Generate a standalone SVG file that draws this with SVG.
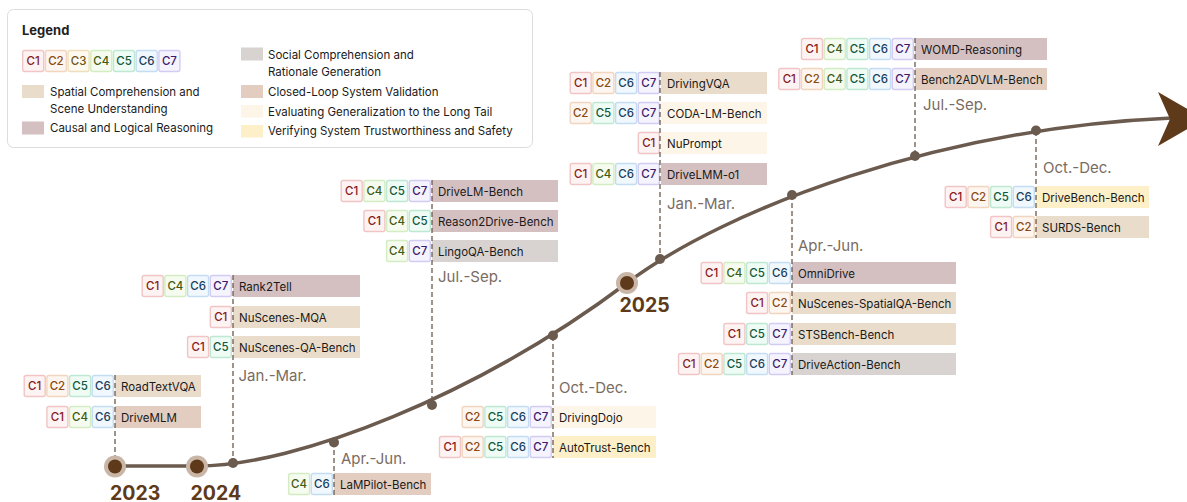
<svg xmlns="http://www.w3.org/2000/svg" width="1187" height="502" viewBox="0 0 1187 502">
<defs>
<style>
text{font-family:Inter,"Noto Sans","Liberation Sans",sans-serif}
.lbl{font-size:11.5px;fill:#1a1a1a}
.leg{font-size:11.5px;fill:#1a1a1a}
.tt{font-size:11.5px;font-weight:500;text-anchor:middle}
.tg{stroke-width:1.4}
.c1{fill:#fdf3f3;stroke:#f1c5c5}.k1{fill:#861b1b}
.c2{fill:#fdf6f0;stroke:#f2d5bf}.k2{fill:#8a4a12}
.c3{fill:#fdf9ee;stroke:#efdfbd}.k3{fill:#6e5412}
.c4{fill:#f6fbf0;stroke:#d4ecc1}.k4{fill:#3f5a12}
.c5{fill:#effbf5;stroke:#bfe8d4}.k5{fill:#12573e}
.c6{fill:#f0f7fd;stroke:#c4ddf2}.k6{fill:#1a3d5c}
.c7{fill:#f5f3fd;stroke:#d3ccf2}.k7{fill:#3d1a6b}
.sp{fill:#e9dccb}.ca{fill:#d5c0c1}.so{fill:#d8d3d0}.cl{fill:#e2cdc0}.ev{fill:#fdf5e7}.ve{fill:#fdefc8}
.per{font-size:15px;fill:#7a6b62}
.yr{font-size:19.5px;font-weight:700;fill:#5e3a1a}
.dash{stroke:#6b5a4e;stroke-width:1.3;stroke-dasharray:5 3;fill:none}
.dot{fill:#6b5a4e}
</style>
</defs>

<g id="legend">
<rect x="7.5" y="9.5" width="525" height="138" rx="6" fill="#fff" stroke="#dcdcdc"/>
<text x="22" y="35" style="font-size:13px;font-weight:700;fill:#1f1f1f">Legend</text>
<rect class="tg c1" x="22.7" y="50.5" width="21" height="21" rx="2"/><text class="tt k1" x="33.2" y="65.3">C1</text>
<rect class="tg c2" x="45.4" y="50.5" width="21" height="21" rx="2"/><text class="tt k2" x="55.9" y="65.3">C2</text>
<rect class="tg c3" x="68.1" y="50.5" width="21" height="21" rx="2"/><text class="tt k3" x="78.6" y="65.3">C3</text>
<rect class="tg c4" x="90.8" y="50.5" width="21" height="21" rx="2"/><text class="tt k4" x="101.3" y="65.3">C4</text>
<rect class="tg c5" x="113.5" y="50.5" width="21" height="21" rx="2"/><text class="tt k5" x="124" y="65.3">C5</text>
<rect class="tg c6" x="136.2" y="50.5" width="21" height="21" rx="2"/><text class="tt k6" x="146.7" y="65.3">C6</text>
<rect class="tg c7" x="158.9" y="50.5" width="21" height="21" rx="2"/><text class="tt k7" x="169.4" y="65.3">C7</text>
<rect class="sp" x="22" y="85" width="22" height="13"/>
<text class="leg" x="50" y="95.5">Spatial Comprehension and</text>
<text class="leg" x="50" y="113">Scene Understanding</text>
<rect class="ca" x="22" y="121.5" width="22" height="13"/>
<text class="leg" x="50" y="132">Causal and Logical Reasoning</text>
<rect class="so" x="241" y="47.5" width="22" height="13"/>
<text class="leg" x="268" y="58.5">Social Comprehension and</text>
<text class="leg" x="268" y="76">Rationale Generation</text>
<rect class="cl" x="241" y="85" width="22" height="13"/>
<text class="leg" x="268" y="95.5">Closed-Loop System Validation</text>
<rect class="ev" x="241" y="105" width="22" height="12.5"/>
<text class="leg" x="268" y="115.5">Evaluating Generalization to the Long Tail</text>
<rect class="ve" x="241" y="125" width="22" height="12.5"/>
<text class="leg" x="268" y="135">Verifying System Trustworthiness and Safety</text>
</g>

<!-- 2023 -->
<g id="roadtextvqa">
<rect class="sp" x="115" y="375" width="86" height="22"/><text class="lbl" x="121" y="390.5">RoadTextVQA</text>
<rect class="tg c1" x="24.2" y="375.5" width="21" height="21" rx="2"/><text class="tt k1" x="34.7" y="390.3">C1</text>
<rect class="tg c2" x="46.9" y="375.5" width="21" height="21" rx="2"/><text class="tt k2" x="57.4" y="390.3">C2</text>
<rect class="tg c5" x="69.6" y="375.5" width="21" height="21" rx="2"/><text class="tt k5" x="80.1" y="390.3">C5</text>
<rect class="tg c6" x="92.3" y="375.5" width="21" height="21" rx="2"/><text class="tt k6" x="102.8" y="390.3">C6</text>
</g>
<g id="drivemlm">
<rect class="cl" x="115" y="406" width="86" height="22"/><text class="lbl" x="121" y="421.5">DriveMLM</text>
<rect class="tg c1" x="46.9" y="406.5" width="21" height="21" rx="2"/><text class="tt k1" x="57.4" y="421.3">C1</text>
<rect class="tg c4" x="69.6" y="406.5" width="21" height="21" rx="2"/><text class="tt k4" x="80.1" y="421.3">C4</text>
<rect class="tg c6" x="92.3" y="406.5" width="21" height="21" rx="2"/><text class="tt k6" x="102.8" y="421.3">C6</text>
</g>

<!-- 2024 Jan-Mar -->
<g id="rank2tell">
<rect class="ca" x="233" y="275" width="127" height="22"/><text class="lbl" x="239" y="290.5">Rank2Tell</text>
<rect class="tg c1" x="142.2" y="275.5" width="21" height="21" rx="2"/><text class="tt k1" x="152.7" y="290.3">C1</text>
<rect class="tg c4" x="164.9" y="275.5" width="21" height="21" rx="2"/><text class="tt k4" x="175.4" y="290.3">C4</text>
<rect class="tg c6" x="187.6" y="275.5" width="21" height="21" rx="2"/><text class="tt k6" x="198.1" y="290.3">C6</text>
<rect class="tg c7" x="210.3" y="275.5" width="21" height="21" rx="2"/><text class="tt k7" x="220.8" y="290.3">C7</text>
</g>
<g id="nuscenes-mqa">
<rect class="sp" x="233" y="306" width="127" height="22"/><text class="lbl" x="239" y="321.5">NuScenes-MQA</text>
<rect class="tg c1" x="210.3" y="306.5" width="21" height="21" rx="2"/><text class="tt k1" x="220.8" y="321.3">C1</text>
</g>
<g id="nuscenes-qa-bench">
<rect class="sp" x="233" y="336" width="127" height="22"/><text class="lbl" x="239" y="351.5">NuScenes-QA-Bench</text>
<rect class="tg c1" x="187.6" y="336.5" width="21" height="21" rx="2"/><text class="tt k1" x="198.1" y="351.3">C1</text>
<rect class="tg c5" x="210.3" y="336.5" width="21" height="21" rx="2"/><text class="tt k5" x="220.8" y="351.3">C5</text>
</g>

<!-- 2024 Apr-Jun -->
<g id="lampilot-bench">
<rect class="cl" x="334" y="473" width="97" height="22"/><text class="lbl" x="340" y="488.5">LaMPilot-Bench</text>
<rect class="tg c4" x="288.6" y="473.5" width="21" height="21" rx="2"/><text class="tt k4" x="299.1" y="488.3">C4</text>
<rect class="tg c6" x="311.3" y="473.5" width="21" height="21" rx="2"/><text class="tt k6" x="321.8" y="488.3">C6</text>
</g>

<!-- 2024 Jul-Sep -->
<g id="drivelm-bench">
<rect class="ca" x="432" y="180" width="126" height="22"/><text class="lbl" x="438" y="195.5">DriveLM-Bench</text>
<rect class="tg c1" x="341.2" y="180.5" width="21" height="21" rx="2"/><text class="tt k1" x="351.7" y="195.3">C1</text>
<rect class="tg c4" x="363.9" y="180.5" width="21" height="21" rx="2"/><text class="tt k4" x="374.4" y="195.3">C4</text>
<rect class="tg c5" x="386.6" y="180.5" width="21" height="21" rx="2"/><text class="tt k5" x="397.1" y="195.3">C5</text>
<rect class="tg c7" x="409.3" y="180.5" width="21" height="21" rx="2"/><text class="tt k7" x="419.8" y="195.3">C7</text>
</g>
<g id="reason2drive-bench">
<rect class="ca" x="432" y="210" width="126" height="22"/><text class="lbl" x="438" y="225.5">Reason2Drive-Bench</text>
<rect class="tg c1" x="363.9" y="210.5" width="21" height="21" rx="2"/><text class="tt k1" x="374.4" y="225.3">C1</text>
<rect class="tg c4" x="386.6" y="210.5" width="21" height="21" rx="2"/><text class="tt k4" x="397.1" y="225.3">C4</text>
<rect class="tg c5" x="409.3" y="210.5" width="21" height="21" rx="2"/><text class="tt k5" x="419.8" y="225.3">C5</text>
</g>
<g id="lingoqa-bench">
<rect class="so" x="432" y="240" width="126" height="22"/><text class="lbl" x="438" y="255.5">LingoQA-Bench</text>
<rect class="tg c4" x="386.6" y="240.5" width="21" height="21" rx="2"/><text class="tt k4" x="397.1" y="255.3">C4</text>
<rect class="tg c7" x="409.3" y="240.5" width="21" height="21" rx="2"/><text class="tt k7" x="419.8" y="255.3">C7</text>
</g>

<!-- 2024 Oct-Dec -->
<g id="drivingdojo">
<rect class="ev" x="553" y="406" width="103" height="22"/><text class="lbl" x="559" y="421.5">DrivingDojo</text>
<rect class="tg c2" x="462.2" y="406.5" width="21" height="21" rx="2"/><text class="tt k2" x="472.7" y="421.3">C2</text>
<rect class="tg c5" x="484.9" y="406.5" width="21" height="21" rx="2"/><text class="tt k5" x="495.4" y="421.3">C5</text>
<rect class="tg c6" x="507.6" y="406.5" width="21" height="21" rx="2"/><text class="tt k6" x="518.1" y="421.3">C6</text>
<rect class="tg c7" x="530.3" y="406.5" width="21" height="21" rx="2"/><text class="tt k7" x="540.8" y="421.3">C7</text>
</g>
<g id="autotrust-bench">
<rect class="ve" x="553" y="436" width="103" height="22"/><text class="lbl" x="559" y="451.5">AutoTrust-Bench</text>
<rect class="tg c1" x="439.5" y="436.5" width="21" height="21" rx="2"/><text class="tt k1" x="450" y="451.3">C1</text>
<rect class="tg c2" x="462.2" y="436.5" width="21" height="21" rx="2"/><text class="tt k2" x="472.7" y="451.3">C2</text>
<rect class="tg c5" x="484.9" y="436.5" width="21" height="21" rx="2"/><text class="tt k5" x="495.4" y="451.3">C5</text>
<rect class="tg c6" x="507.6" y="436.5" width="21" height="21" rx="2"/><text class="tt k6" x="518.1" y="451.3">C6</text>
<rect class="tg c7" x="530.3" y="436.5" width="21" height="21" rx="2"/><text class="tt k7" x="540.8" y="451.3">C7</text>
</g>

<!-- 2025 Jan-Mar -->
<g id="drivingvqa">
<rect class="sp" x="661" y="72" width="106" height="22"/><text class="lbl" x="667" y="87.5">DrivingVQA</text>
<rect class="tg c1" x="570.2" y="72.5" width="21" height="21" rx="2"/><text class="tt k1" x="580.7" y="87.3">C1</text>
<rect class="tg c2" x="592.9" y="72.5" width="21" height="21" rx="2"/><text class="tt k2" x="603.4" y="87.3">C2</text>
<rect class="tg c6" x="615.6" y="72.5" width="21" height="21" rx="2"/><text class="tt k6" x="626.1" y="87.3">C6</text>
<rect class="tg c7" x="638.3" y="72.5" width="21" height="21" rx="2"/><text class="tt k7" x="648.8" y="87.3">C7</text>
</g>
<g id="coda-lm-bench">
<rect class="ev" x="661" y="102" width="106" height="22"/><text class="lbl" x="667" y="117.5">CODA-LM-Bench</text>
<rect class="tg c2" x="570.2" y="102.5" width="21" height="21" rx="2"/><text class="tt k2" x="580.7" y="117.3">C2</text>
<rect class="tg c5" x="592.9" y="102.5" width="21" height="21" rx="2"/><text class="tt k5" x="603.4" y="117.3">C5</text>
<rect class="tg c6" x="615.6" y="102.5" width="21" height="21" rx="2"/><text class="tt k6" x="626.1" y="117.3">C6</text>
<rect class="tg c7" x="638.3" y="102.5" width="21" height="21" rx="2"/><text class="tt k7" x="648.8" y="117.3">C7</text>
</g>
<g id="nuprompt">
<rect class="ev" x="661" y="132" width="106" height="22"/><text class="lbl" x="667" y="147.5">NuPrompt</text>
<rect class="tg c1" x="638.3" y="132.5" width="21" height="21" rx="2"/><text class="tt k1" x="648.8" y="147.3">C1</text>
</g>
<g id="drivelmm-o1">
<rect class="ca" x="661" y="163" width="106" height="22"/><text class="lbl" x="667" y="178.5">DriveLMM-o1</text>
<rect class="tg c1" x="570.2" y="163.5" width="21" height="21" rx="2"/><text class="tt k1" x="580.7" y="178.3">C1</text>
<rect class="tg c4" x="592.9" y="163.5" width="21" height="21" rx="2"/><text class="tt k4" x="603.4" y="178.3">C4</text>
<rect class="tg c6" x="615.6" y="163.5" width="21" height="21" rx="2"/><text class="tt k6" x="626.1" y="178.3">C6</text>
<rect class="tg c7" x="638.3" y="163.5" width="21" height="21" rx="2"/><text class="tt k7" x="648.8" y="178.3">C7</text>
</g>

<!-- 2025 Apr-Jun -->
<g id="omnidrive">
<rect class="ca" x="792" y="262" width="164" height="22"/><text class="lbl" x="798" y="277.5">OmniDrive</text>
<rect class="tg c1" x="701.2" y="262.5" width="21" height="21" rx="2"/><text class="tt k1" x="711.7" y="277.3">C1</text>
<rect class="tg c4" x="723.9" y="262.5" width="21" height="21" rx="2"/><text class="tt k4" x="734.4" y="277.3">C4</text>
<rect class="tg c5" x="746.6" y="262.5" width="21" height="21" rx="2"/><text class="tt k5" x="757.1" y="277.3">C5</text>
<rect class="tg c6" x="769.3" y="262.5" width="21" height="21" rx="2"/><text class="tt k6" x="779.8" y="277.3">C6</text>
</g>
<g id="nuscenes-spatialqa-bench">
<rect class="sp" x="792" y="292" width="164" height="22"/><text class="lbl" x="798" y="307.5">NuScenes-SpatialQA-Bench</text>
<rect class="tg c1" x="746.6" y="292.5" width="21" height="21" rx="2"/><text class="tt k1" x="757.1" y="307.3">C1</text>
<rect class="tg c2" x="769.3" y="292.5" width="21" height="21" rx="2"/><text class="tt k2" x="779.8" y="307.3">C2</text>
</g>
<g id="stsbench-bench">
<rect class="sp" x="792" y="323" width="164" height="22"/><text class="lbl" x="798" y="338.5">STSBench-Bench</text>
<rect class="tg c1" x="723.9" y="323.5" width="21" height="21" rx="2"/><text class="tt k1" x="734.4" y="338.3">C1</text>
<rect class="tg c5" x="746.6" y="323.5" width="21" height="21" rx="2"/><text class="tt k5" x="757.1" y="338.3">C5</text>
<rect class="tg c7" x="769.3" y="323.5" width="21" height="21" rx="2"/><text class="tt k7" x="779.8" y="338.3">C7</text>
</g>
<g id="driveaction-bench">
<rect class="so" x="792" y="353" width="164" height="22"/><text class="lbl" x="798" y="368.5">DriveAction-Bench</text>
<rect class="tg c1" x="678.5" y="353.5" width="21" height="21" rx="2"/><text class="tt k1" x="689" y="368.3">C1</text>
<rect class="tg c2" x="701.2" y="353.5" width="21" height="21" rx="2"/><text class="tt k2" x="711.7" y="368.3">C2</text>
<rect class="tg c5" x="723.9" y="353.5" width="21" height="21" rx="2"/><text class="tt k5" x="734.4" y="368.3">C5</text>
<rect class="tg c6" x="746.6" y="353.5" width="21" height="21" rx="2"/><text class="tt k6" x="757.1" y="368.3">C6</text>
<rect class="tg c7" x="769.3" y="353.5" width="21" height="21" rx="2"/><text class="tt k7" x="779.8" y="368.3">C7</text>
</g>

<!-- 2025 Jul-Sep -->
<g id="womd-reasoning">
<rect class="ca" x="915" y="38" width="132" height="22"/><text class="lbl" x="921" y="53.5">WOMD-Reasoning</text>
<rect class="tg c1" x="801.5" y="38.5" width="21" height="21" rx="2"/><text class="tt k1" x="812" y="53.3">C1</text>
<rect class="tg c4" x="824.2" y="38.5" width="21" height="21" rx="2"/><text class="tt k4" x="834.7" y="53.3">C4</text>
<rect class="tg c5" x="846.9" y="38.5" width="21" height="21" rx="2"/><text class="tt k5" x="857.4" y="53.3">C5</text>
<rect class="tg c6" x="869.6" y="38.5" width="21" height="21" rx="2"/><text class="tt k6" x="880.1" y="53.3">C6</text>
<rect class="tg c7" x="892.3" y="38.5" width="21" height="21" rx="2"/><text class="tt k7" x="902.8" y="53.3">C7</text>
</g>
<g id="bench2advlm-bench">
<rect class="cl" x="915" y="68" width="132" height="22"/><text class="lbl" x="921" y="83.5">Bench2ADVLM-Bench</text>
<rect class="tg c1" x="778.8" y="68.5" width="21" height="21" rx="2"/><text class="tt k1" x="789.3" y="83.3">C1</text>
<rect class="tg c2" x="801.5" y="68.5" width="21" height="21" rx="2"/><text class="tt k2" x="812" y="83.3">C2</text>
<rect class="tg c4" x="824.2" y="68.5" width="21" height="21" rx="2"/><text class="tt k4" x="834.7" y="83.3">C4</text>
<rect class="tg c5" x="846.9" y="68.5" width="21" height="21" rx="2"/><text class="tt k5" x="857.4" y="83.3">C5</text>
<rect class="tg c6" x="869.6" y="68.5" width="21" height="21" rx="2"/><text class="tt k6" x="880.1" y="83.3">C6</text>
<rect class="tg c7" x="892.3" y="68.5" width="21" height="21" rx="2"/><text class="tt k7" x="902.8" y="83.3">C7</text>
</g>

<!-- 2025 Oct-Dec -->
<g id="drivebench-bench">
<rect class="ve" x="1036" y="186" width="113" height="22"/><text class="lbl" x="1042" y="201.5">DriveBench-Bench</text>
<rect class="tg c1" x="945.2" y="186.5" width="21" height="21" rx="2"/><text class="tt k1" x="955.7" y="201.3">C1</text>
<rect class="tg c2" x="967.9" y="186.5" width="21" height="21" rx="2"/><text class="tt k2" x="978.4" y="201.3">C2</text>
<rect class="tg c5" x="990.6" y="186.5" width="21" height="21" rx="2"/><text class="tt k5" x="1001.1" y="201.3">C5</text>
<rect class="tg c6" x="1013.3" y="186.5" width="21" height="21" rx="2"/><text class="tt k6" x="1023.8" y="201.3">C6</text>
</g>
<g id="surds-bench">
<rect class="sp" x="1036" y="216" width="113" height="22"/><text class="lbl" x="1042" y="231.5">SURDS-Bench</text>
<rect class="tg c1" x="990.6" y="216.5" width="21" height="21" rx="2"/><text class="tt k1" x="1001.1" y="231.3">C1</text>
<rect class="tg c2" x="1013.3" y="216.5" width="21" height="21" rx="2"/><text class="tt k2" x="1023.8" y="231.3">C2</text>
</g>

<g id="connectors">
<line class="dash" x1="115" y1="375" x2="115" y2="466"/>
<line class="dash" x1="233" y1="275" x2="233" y2="463"/>
<line class="dash" x1="334" y1="442" x2="334" y2="495"/>
<line class="dash" x1="432" y1="180" x2="432" y2="405"/>
<line class="dash" x1="553" y1="336" x2="553" y2="458"/>
<line class="dash" x1="660" y1="72" x2="660" y2="259"/>
<line class="dash" x1="792" y1="195" x2="792" y2="375"/>
<line class="dash" x1="915" y1="38" x2="915" y2="156"/>
<line class="dash" x1="1036" y1="131" x2="1036" y2="238"/>
<path d="M115,466 L197,466 C297,466 477,395.5 627,283 C727,208 940,128 1172,118" fill="none" stroke="#6b5a4e" stroke-width="3.5"/>
<path d="M1158,92 L1205,119 L1158,146 L1170,119 Z" fill="#5e3a1a"/>
</g>

<g id="timeline-points">
<circle cx="115" cy="466.5" r="11" fill="#c9b6a6"/><circle cx="115" cy="466.5" r="7" fill="#5e3a1a"/>
<circle cx="197" cy="466.5" r="11" fill="#c9b6a6"/><circle cx="197" cy="466.5" r="7" fill="#5e3a1a"/>
<circle cx="627" cy="283" r="11" fill="#c9b6a6"/><circle cx="627" cy="283" r="7" fill="#5e3a1a"/>
<circle class="dot" cx="233" cy="463" r="5"/>
<circle class="dot" cx="334" cy="442.5" r="5"/>
<circle class="dot" cx="432" cy="405" r="5"/>
<circle class="dot" cx="553" cy="335.5" r="5"/>
<circle class="dot" cx="660" cy="259" r="5"/>
<circle class="dot" cx="792" cy="195" r="5"/>
<circle class="dot" cx="915" cy="156" r="5"/>
<circle class="dot" cx="1036" cy="130.5" r="5"/>
</g>

<g id="labels">
<text class="yr" x="110" y="499.5">2023</text>
<text class="yr" x="190.5" y="499.5">2024</text>
<text class="yr" x="619.5" y="312">2025</text>
<text class="per" x="238.5" y="381">Jan.-Mar.</text>
<text class="per" x="341" y="464">Apr.-Jun.</text>
<text class="per" x="438" y="282">Jul.-Sep.</text>
<text class="per" x="559" y="393">Oct.-Dec.</text>
<text class="per" x="667" y="209">Jan.-Mar.</text>
<text class="per" x="798" y="251">Apr.-Jun.</text>
<text class="per" x="923" y="110">Jul.-Sep.</text>
<text class="per" x="1043" y="173">Oct.-Dec.</text>
</g>
</svg>
